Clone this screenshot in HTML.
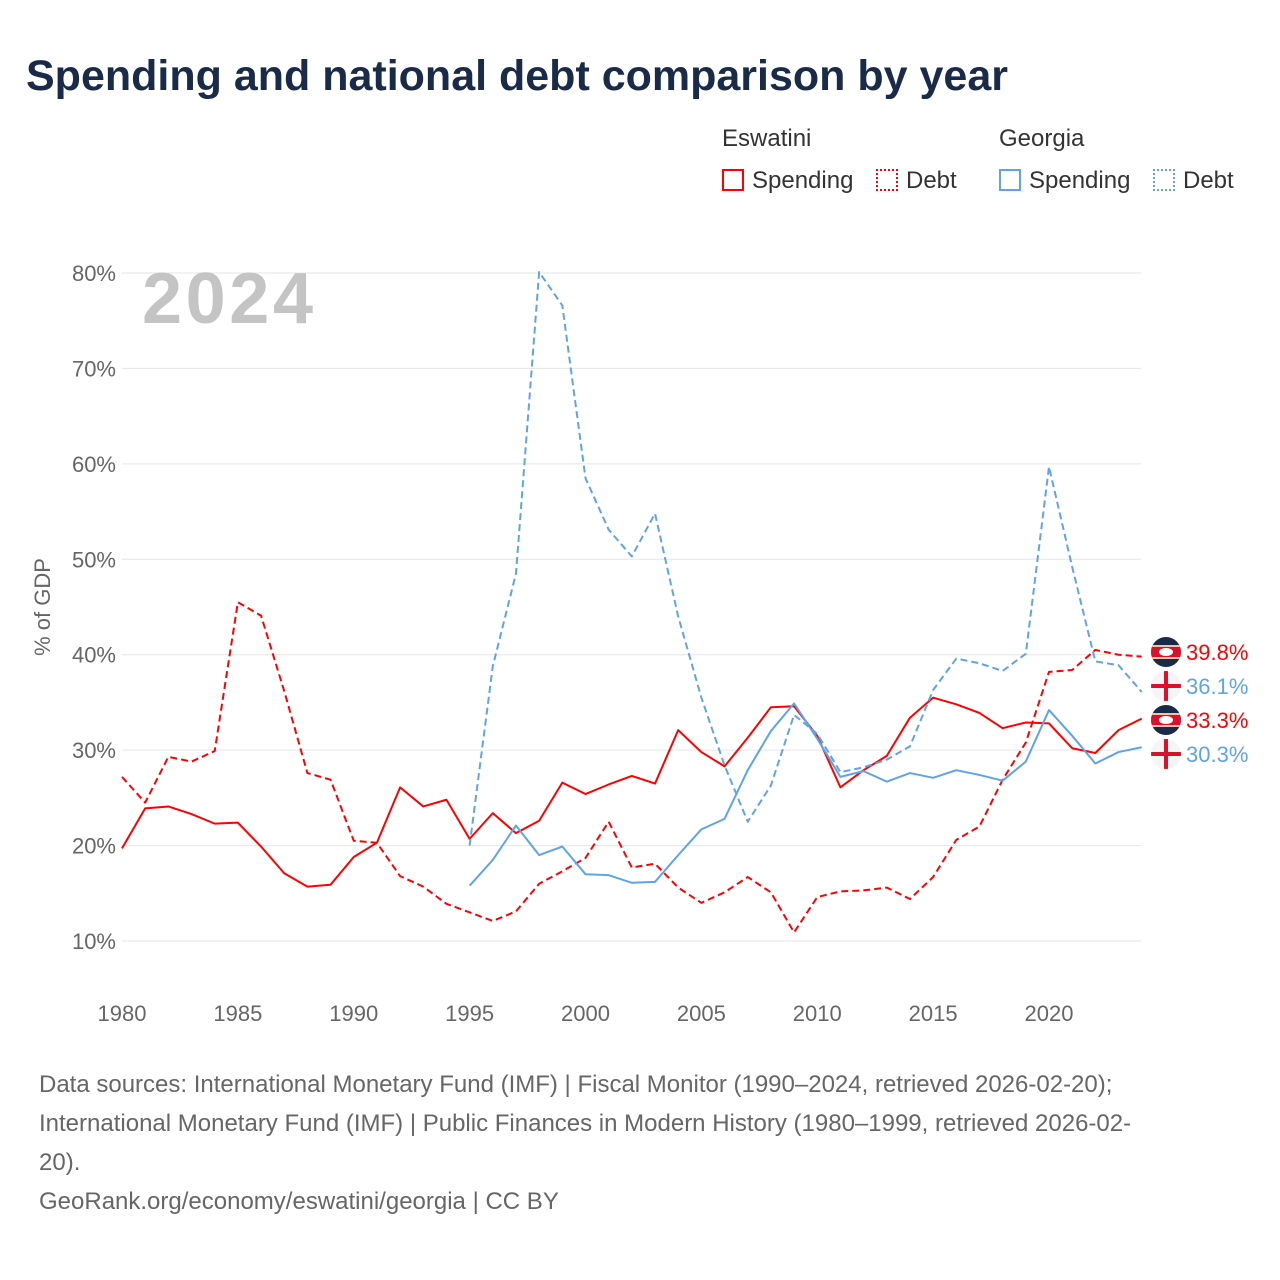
<!DOCTYPE html>
<html><head><meta charset="utf-8">
<style>
body{margin:0;background:#fff;font-family:"Liberation Sans",sans-serif;}
#wrap{position:relative;width:1280px;height:1280px;overflow:hidden;}
.t{position:absolute;white-space:nowrap;}
</style></head>
<body>
<div id="wrap">
<div class="t" style="left:26px;top:52px;font-size:43px;font-weight:bold;color:#1a2b4a;">Spending and national debt comparison by year</div>
<div class="t" style="left:722px;top:125px;font-size:24px;color:#333;">Eswatini</div>
<div class="t" style="left:999px;top:125px;font-size:24px;color:#333;">Georgia</div>
<div class="t" style="left:722px;top:167px;font-size:24px;color:#333;"><span style="display:inline-block;width:22px;height:22px;border:2px solid #f00;box-sizing:border-box;vertical-align:-3px;margin-right:8px"></span>Spending</div>
<div class="t" style="left:876px;top:167px;font-size:24px;color:#333;"><span style="display:inline-block;width:22px;height:22px;border:2px dotted #f00;box-sizing:border-box;vertical-align:-3px;margin-right:8px"></span>Debt</div>
<div class="t" style="left:999px;top:167px;font-size:24px;color:#333;"><span style="display:inline-block;width:22px;height:22px;border:2px solid #5fa3ea;box-sizing:border-box;vertical-align:-3px;margin-right:8px"></span>Spending</div>
<div class="t" style="left:1153px;top:167px;font-size:24px;color:#333;"><span style="display:inline-block;width:22px;height:22px;border:2px dotted #5fa3ea;box-sizing:border-box;vertical-align:-3px;margin-right:8px"></span>Debt</div>
<svg id="chart" width="1280" height="1280" style="position:absolute;left:0;top:0"></svg>
<div class="t" style="left:39px;top:1065px;font-size:24px;line-height:39px;color:#666;">Data sources: International Monetary Fund (IMF) | Fiscal Monitor (1990–2024, retrieved 2026-02-20);<br>International Monetary Fund (IMF) | Public Finances in Modern History (1980–1999, retrieved 2026-02-<br>20).<br>GeoRank.org/economy/eswatini/georgia | CC BY</div>
</div>
<script>
const yTicks=[10,20,30,40,50,60,70,80];
const xTicks=[1980,1985,1990,1995,2000,2005,2010,2015,2020];
const eswYears=[1980,1981,1982,1983,1984,1985,1986,1987,1988,1989,1990,1991,1992,1993,1994,1995,1996,1997,1998,1999,2000,2001,2002,2003,2004,2005,2006,2007,2008,2009,2010,2011,2012,2013,2014,2015,2016,2017,2018,2019,2020,2021,2022,2023,2024];
const eswSpending=[19.7,23.9,24.1,23.3,22.3,22.4,19.9,17.1,15.7,15.9,18.8,20.3,26.1,24.1,24.8,20.7,23.4,21.3,22.6,26.6,25.4,26.4,27.3,26.5,32.1,29.8,28.3,31.3,34.5,34.6,31.5,26.1,27.9,29.4,33.4,35.5,34.8,33.9,32.3,32.9,32.8,30.2,29.7,32.1,33.3];
const eswDebt=[27.2,24.5,29.3,28.8,29.9,45.5,44.1,36.2,27.6,26.9,20.5,20.3,16.8,15.7,13.9,13.0,12.1,13.1,16.0,17.3,18.7,22.5,17.7,18.1,15.6,14.0,15.1,16.7,15.1,10.9,14.6,15.2,15.3,15.6,14.4,16.7,20.6,22.0,26.9,30.8,38.2,38.4,40.5,40.0,39.8];
const geoYears=[1995,1996,1997,1998,1999,2000,2001,2002,2003,2004,2005,2006,2007,2008,2009,2010,2011,2012,2013,2014,2015,2016,2017,2018,2019,2020,2021,2022,2023,2024];
const geoSpending=[15.8,18.5,22.1,19.0,19.9,17.0,16.9,16.1,16.2,19.0,21.7,22.8,27.9,32.0,34.9,31.2,27.2,27.8,26.7,27.6,27.1,27.9,27.4,26.8,28.8,34.2,31.5,28.6,29.8,30.3];
const geoDebt=[20.0,38.8,48.5,80.1,76.6,58.5,53.1,50.3,54.8,44.0,35.5,28.4,22.5,26.3,33.7,31.7,27.7,28.2,29.0,30.4,36.3,39.6,39.1,38.3,40.1,59.7,49.2,39.3,38.9,36.1];

const svg=document.getElementById('chart');
const NS='http://www.w3.org/2000/svg';
const x=yr=>122+(yr-1980)*(1049-122)/40;
const y=v=>941-(v-10)*(941-273)/70;
function mk(tag,attrs,parent){const e=document.createElementNS(NS,tag);for(const k in attrs)e.setAttribute(k,attrs[k]);(parent||svg).appendChild(e);return e;}
yTicks.forEach(t=>{
  const g=mk('line',{x1:122,x2:1141,y1:y(t),y2:y(t),stroke:'#e6e6e6','stroke-width':1});
  
  
  const l=mk('text',{x:116,y:y(t)+8,'text-anchor':'end','font-size':22,fill:'#666','font-family':'Liberation Sans, sans-serif'});
  l.textContent=t+'%';
  
  
});
xTicks.forEach(t=>{
  const l=mk('text',{x:x(t),y:1021,'text-anchor':'middle','font-size':22,fill:'#666','font-family':'Liberation Sans, sans-serif'});
  l.textContent=t;
  
  
});
const yt=mk('text',{x:0,y:0,transform:'translate(50,607) rotate(-90)','text-anchor':'middle','font-size':22,fill:'#666','font-family':'Liberation Sans, sans-serif'});
yt.textContent='% of GDP';


const yr=mk('text',{x:142,y:323,'font-size':72,'font-weight':'bold',fill:'#c4c4c4','font-family':'Liberation Sans, sans-serif',textLength:171});
yr.textContent='2024';



function series(years,vals,color,dash,name){
  const p=mk('polyline',{points:years.map((yy,i)=>x(yy)+','+y(vals[i])).join(' '),fill:'none',stroke:color,'stroke-width':2,'stroke-dasharray':dash||'none','stroke-linejoin':'round'});
  
  
}
series(eswYears,eswSpending,'#f00',null,'eswatini-spending-line');
series(eswYears,eswDebt,'#f00','7,4','eswatini-debt-line');
series(geoYears,geoSpending,'#5fa3ea',null,'georgia-spending-line');
series(geoYears,geoDebt,'#5fa3ea','7,4','georgia-debt-line');

function flag(cy,type,val,color,name){
  const g=mk('g',{});
  
  
  const cx=1166;
  mk('clipPath',{id:'c'+name},g);
  mk('circle',{cx:cx,cy:cy,r:15},g.lastChild);
  const inner=mk('g',{'clip-path':'url(#c'+name+')'},g);
  if(type==='sz'){
    mk('rect',{x:cx-15,y:cy-15,width:30,height:30,fill:'#1a2b4a'},inner);
    mk('rect',{x:cx-15,y:cy-7,width:30,height:14,fill:'#f5c3a0'},inner);
    mk('rect',{x:cx-15,y:cy-5,width:30,height:10,fill:'#d9112b'},inner);
    mk('ellipse',{cx:cx,cy:cy,rx:7,ry:4,fill:'#fff'},inner);
  } else {
    mk('rect',{x:cx-15,y:cy-15,width:30,height:30,fill:'#f5f5f5'},inner);
    mk('rect',{x:cx-2,y:cy-15,width:4,height:30,fill:'#d9112b'},inner);
    mk('rect',{x:cx-15,y:cy-2,width:30,height:4,fill:'#d9112b'},inner);
  }
  const t=mk('text',{x:1186,y:cy+8,'font-size':22,fill:color,'font-family':'Liberation Sans, sans-serif'},g);
  t.textContent=val.toFixed(1)+'%';
}
flag(652,'sz',eswDebt[eswDebt.length-1],'#f00','label-eswatini-debt');
flag(686,'ge',geoDebt[geoDebt.length-1],'#5fa3ea','label-georgia-debt');
flag(720,'sz',eswSpending[eswSpending.length-1],'#f00','label-eswatini-spending');
flag(754,'ge',geoSpending[geoSpending.length-1],'#5fa3ea','label-georgia-spending');
</script>
</body></html>
